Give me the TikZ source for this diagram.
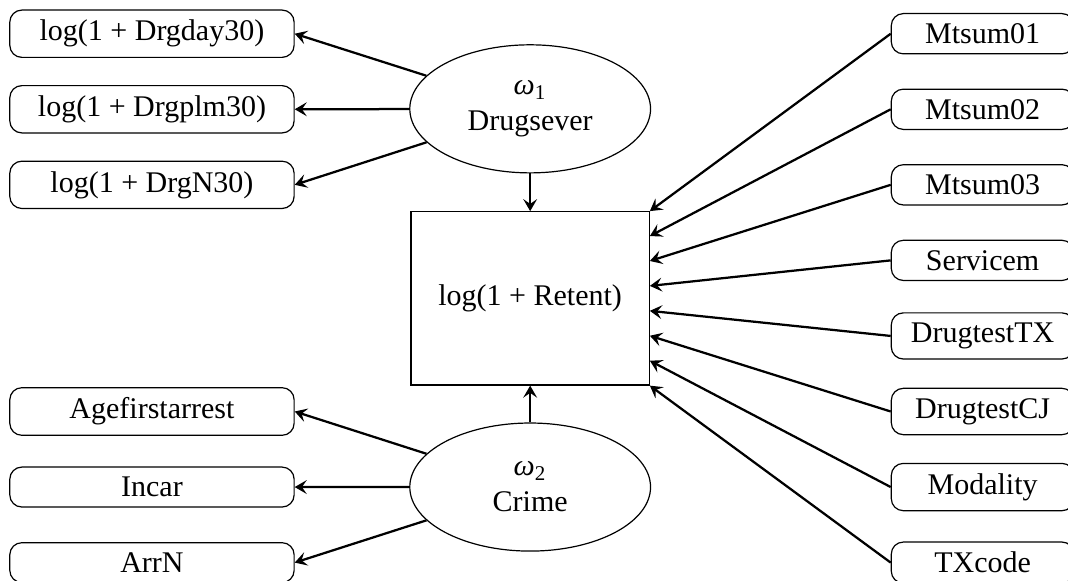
\documentclass[tikz,border=0pt]{standalone}
\usepackage{fontspec}
\setmainfont{Liberation Serif}
\usepackage{tikz}
\usetikzlibrary{arrows.meta, shapes.geometric, calc}

\begin{document}
\begin{tikzpicture}[font=\normalsize,
    obsbox/.style={draw, rounded corners, minimum width=3.33cm},
    itembox/.style={draw, rounded corners, minimum width=2.14cm},
    latent/.style={draw, ellipse, align=center, minimum width=2.82cm, minimum height=1.5cm, inner sep=0pt},
    respbox/.style={draw, rectangle, minimum width=2.79cm, minimum height=2.03cm},
    arr/.style={-{Stealth[length=4pt, width=4.6pt, inset=1.6pt]}, line width=0.75pt}]
        \useasboundingbox (0,0) rectangle (12.51,6.805);
        % response and the two factors
        \node[respbox] (ret) at (6.21,3.31) {log(1 + Retent)};
        \node[latent] (sever) at (6.21,5.53) {{\itshape ω}\textsubscript{1}\\Drugsever};
        \node[latent] (crime) at (6.21,1.10) {{\itshape ω}\textsubscript{2}\\Crime};
        \draw[arr] (sever) -- (ret);
        \draw[arr] (crime) -- (ret);
        % indicators of the factors
        \foreach \i/\lbl in {
            0/{log(1 + Drgday30)},
            1/{log(1 + Drgplm30)},
            2/{log(1 + DrgN30)}}
        {
            \node[obsbox] (sev\i) at (1.78,{6.41-0.885*\i}) {\lbl};
            \draw[arr] (sever) -- (sev\i.east);
        }
        \foreach \i/\lbl in {
            5/{Agefirstarrest},
            6/{Incar},
            7/{ArrN}}
        {
            \node[obsbox] (crm\i) at (1.78,{6.41-0.885*\i}) {\lbl};
            \draw[arr] (crime) -- (crm\i.east);
        }
        % covariates
        \foreach \i/\lbl in {
            0/{Mtsum01},
            1/{Mtsum02},
            2/{Mtsum03},
            3/{Servicem},
            4/{DrugtestTX},
            5/{DrugtestCJ},
            6/{Modality},
            7/{TXcode}}
        {
            \node[itembox] (cov\i) at (11.51,{6.41-0.885*\i}) {\lbl};
            \draw[arr] (cov\i.west) -- ($(ret.north east)!\i/7!(ret.south east)$);
        }
    \end{tikzpicture}
\end{document}
